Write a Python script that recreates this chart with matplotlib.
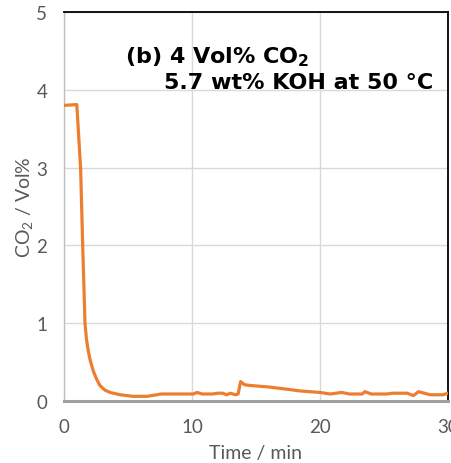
import matplotlib
matplotlib.use('Agg')
from matplotlib import pyplot as plt

# CO2 outlet concentration vs time
time = [0, 1.0, 1.3, 1.46, 1.64, 1.75, 1.9, 2.05, 2.3, 2.55, 2.8, 3.2, 3.6, 4.4, 5.4,
        6.5, 7.6, 9.0,
        10.1, 10.4, 10.8, 11.6, 12.0, 12.4, 12.7, 13.0, 13.4, 13.6, 13.8, 14.1,
        14.5, 16.0, 17.5, 18.4, 20.0, 20.8, 21.7, 22.3, 23.3, 23.5, 24.0, 25.2,
        25.7, 26.8, 27.3, 27.7, 28.6, 29.6, 30.0]
co2 = [3.80, 3.81, 2.98, 2.0, 1.0, 0.80, 0.64, 0.52, 0.38, 0.28, 0.20, 0.14, 0.11, 0.08, 0.06,
       0.06, 0.09, 0.09,
       0.09, 0.11, 0.09, 0.09, 0.10, 0.10, 0.08, 0.10, 0.08, 0.09, 0.25, 0.21,
       0.20, 0.18, 0.15, 0.13, 0.11, 0.09, 0.11, 0.09, 0.09, 0.12, 0.09, 0.09,
       0.10, 0.10, 0.07, 0.12, 0.08, 0.08, 0.10]

xticks = [0, 10, 20, 30]
yticks = [0, 1, 2, 3, 4, 5]

plt.rcParams['font.family'] = ['Lato', 'DejaVu Sans']
plt.rcParams['mathtext.fontset'] = 'custom'
plt.rcParams['mathtext.rm'] = 'Lato'
plt.rcParams['mathtext.bf'] = 'DejaVu Sans:bold'
gray = '#595959'

fig = plt.figure(figsize=(4.52, 4.64), dpi=100)
ax = fig.add_axes([64/452, 1-402/464, (448-64)/452, (402-13)/464])

ax.plot(time, co2, color='#ED7D31', lw=2.3, solid_joinstyle='round', zorder=3)

ax.set_xlim(0, 30)
ax.set_ylim(0, 5)
ax.set_xticks(xticks)
ax.set_yticks(yticks)
ax.tick_params(length=0, labelsize=13.5, labelcolor=gray, pad=12)
ax.grid(True, color='#D9D9D9', lw=1)
ax.set_axisbelow(True)

ax.spines['top'].set_color('black')
ax.spines['right'].set_color('black')
ax.spines['top'].set_linewidth(1.3)
ax.spines['right'].set_linewidth(1.3)
ax.spines['left'].set_color('#BFBFBF')
ax.spines['left'].set_linewidth(1)
ax.spines['bottom'].set_color('#A0A0A0')
ax.spines['bottom'].set_linewidth(2.2)

ax.set_xlabel('Time / min', fontsize=14, color=gray, labelpad=7)
ax.set_ylabel('CO$_\\mathrm{2}$ / Vol%', fontsize=14, color=gray, labelpad=0)

ax.text(125/452, 1-57/464, '(b) 4 Vol% CO$_\\mathbf{2}$', transform=fig.transFigure,
        fontsize=16, fontweight='bold', family='DejaVu Sans', va='center', ha='left')
ax.text(433/452, 1-83/464, '5.7 wt% KOH at 50 °C', transform=fig.transFigure,
        fontsize=16, fontweight='bold', family='DejaVu Sans', va='center', ha='right')

plt.savefig('out.png', dpi=100)
